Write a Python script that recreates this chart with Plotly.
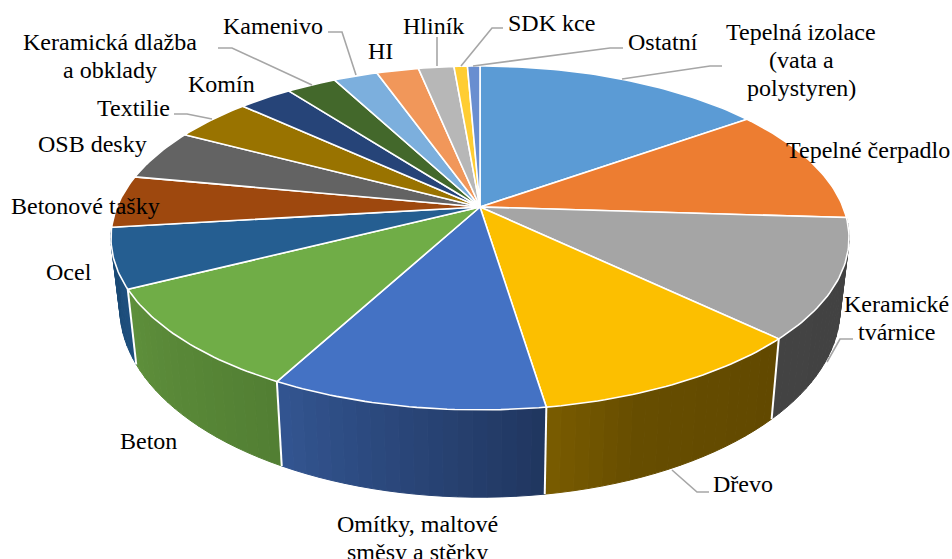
#!/usr/bin/env python3
import math

import plotly.graph_objects as go

CATEGORIES = ['Tepelná izolace', 'Tepelné čerpadlo', 'Keramické tvárnice', 'Dřevo',
              'Omítky, maltové směsy a stěrky', 'Beton', 'Ocel', 'Betonové tašky',
              'OSB desky', 'Textilie', 'Komín', 'Keramická dlažba a obklady',
              'Kamenivo', 'HI', 'Hliník', 'SDK kce', 'Ostatní']

VALUES = [15.1, 10.9, 11.2, 10.4, 10.2, 9.7, 5.6, 4.9, 4.8, 4.1, 2.8, 2.6, 2.3, 2.2, 1.85, 0.7, 0.65]

COLORS = ['#5B9BD5', '#ED7D31', '#A5A5A5', '#FCBF00', '#4472C4', '#70AD47', '#255E91', '#9E480E',
          '#636363', '#997300', '#264478', '#43682B', '#7CAFDD', '#F1975A', '#B7B7B7', '#FFCD33', '#698ED0']

# side wall shades along a slice (only the visible ones)
WALL_SHADES = {
    2: ['#414141', '#434343'],
    3: ['#624900', '#644b00', '#664d00', '#7a5c00'],
    4: ['#20365f', '#335591'],
    5: ['#527f33', '#5e8f3b'],
    6: ['#1d4f7e', '#1b4a75'],
}

# text, x, y of each label, one y per line
LABELS = [
    (['Tepelná izolace', '(vata a', 'polystyren)'], 801, [32, 60, 88]),
    (['Tepelné čerpadlo'], 868, [150]),
    (['Keramické', 'tvárnice'], 896, [304, 332]),
    (['Dřevo'], 743, [484]),
    (['Omítky, maltové', 'směsy a stěrky'], 417, [524, 552]),
    (['Beton'], 148, [441]),
    (['Ocel'], 69, [272]),
    (['Betonové tašky'], 85, [206]),
    (['OSB desky'], 92, [144]),
    (['Textilie'], 133, [108]),
    (['Komín'], 221, [84]),
    (['Keramická dlažba', 'a obklady'], 110, [42, 70]),
    (['Kamenivo'], 273, [26]),
    (['HI'], 380, [51]),
    (['Hliník'], 433, [26]),
    (['SDK kce'], 551, [23]),
    (['Ostatní'], 663, [42]),
]

LEADERS = [
    [(622, 79), (710, 66), (722, 66)],
    [(473, 66), (610, 48), (623, 48)],
    [(461, 66), (492, 28), (503, 28)],
    [(437, 66), (437, 37)],
    [(356, 75), (342, 32), (328, 32)],
    [(312, 85), (232, 48), (218, 48)],
    [(212, 119), (187, 114), (174, 114)],
    [(827, 362), (840, 339), (853, 339)],
    [(672, 470), (697, 492), (709, 492)],
]

# projection of the pie disc to the page, in pixels
CX, CY = 480, 207
A, B, K = 363, 166.4, 0.18
BOTTOM_Y = 274
BOTTOM_SX, BOTTOM_SY = 0.976, 1.1


def top_point(deg):
    t = math.radians(deg)
    u, v = math.sin(t), math.cos(t)
    w = 1 + K * v
    return CX + A * u / w, CY - B * v / w


def bottom_point(deg):
    x, y = top_point(deg)
    return CX + BOTTOM_SX * (x - CX), BOTTOM_Y + BOTTOM_SY * (y - CY)


def steps(start, end, size):
    n = max(1, int(math.ceil((end - start) / size)))
    return [start + (end - start) * i / n for i in range(n + 1)]


def mix(stops, f):
    pos = min(f, 0.999) * (len(stops) - 1)
    c1, c2 = stops[int(pos)], stops[int(pos) + 1]
    f = pos - int(pos)
    rgb1 = [int(c1[i:i + 2], 16) for i in (1, 3, 5)]
    rgb2 = [int(c2[i:i + 2], 16) for i in (1, 3, 5)]
    return 'rgb(%d,%d,%d)' % tuple(round(a + (b - a) * f) for a, b in zip(rgb1, rgb2))


def poly(xs, ys, color, line_color, width):
    return go.Scatter(x=xs, y=ys, mode='lines', fill='toself', fillcolor=color,
                      line=dict(color=line_color, width=width), hoverinfo='skip', showlegend=False)


total = sum(VALUES)
edges = [0]
for value in VALUES:
    edges.append(edges[-1] + value / total * 360)

fig = go.Figure()

# side walls, narrow strips so the shade can change along the slice
for i, shade in WALL_SHADES.items():
    angles = steps(edges[i], edges[i + 1], 2)
    for a0, a1 in zip(angles, angles[1:]):
        f = ((a0 + a1) / 2 - edges[i]) / (edges[i + 1] - edges[i])
        color = mix(shade, f)
        p0, p1 = top_point(a0), top_point(a1)
        q0, q1 = bottom_point(a0), bottom_point(a1)
        fig.add_trace(poly([p0[0], p1[0], q1[0], q0[0], p0[0]],
                           [p0[1], p1[1], q1[1], q0[1], p0[1]], color, color, 1))

for i in WALL_SHADES:
    if i - 1 in WALL_SHADES:
        p, q = top_point(edges[i]), bottom_point(edges[i])
        fig.add_trace(go.Scatter(x=[p[0], q[0]], y=[p[1], q[1]], mode='lines',
                                 line=dict(color='white', width=2), hoverinfo='skip', showlegend=False))

# top face
for i, color in enumerate(COLORS):
    pts = [top_point(a) for a in steps(edges[i], edges[i + 1], 1)]
    xs = [CX] + [p[0] for p in pts] + [CX]
    ys = [CY] + [p[1] for p in pts] + [CY]
    fig.add_trace(poly(xs, ys, color, 'white', 1.6))

for leader in LEADERS:
    fig.add_trace(go.Scatter(x=[p[0] for p in leader], y=[p[1] for p in leader], mode='lines',
                             line=dict(color='#A6A6A6', width=1.6), hoverinfo='skip', showlegend=False))

annotations = []
for lines, x, ys in LABELS:
    for text, y in zip(lines, ys):
        annotations.append(dict(text=text, x=x, y=y, xref='x', yref='y', xanchor='center', yanchor='middle',
                                showarrow=False, font=dict(family='Liberation Serif', size=24, color='#000000')))

fig.update_layout(
    width=952, height=559,
    margin=dict(l=0, r=0, t=0, b=0),
    paper_bgcolor='white', plot_bgcolor='white',
    xaxis=dict(range=[0, 952], visible=False, fixedrange=True),
    yaxis=dict(range=[559, 0], visible=False, fixedrange=True),
    annotations=annotations,
)

fig.write_html("out.html", post_script="document.body.style.margin='0';",
               config=dict(displayModeBar=False))
